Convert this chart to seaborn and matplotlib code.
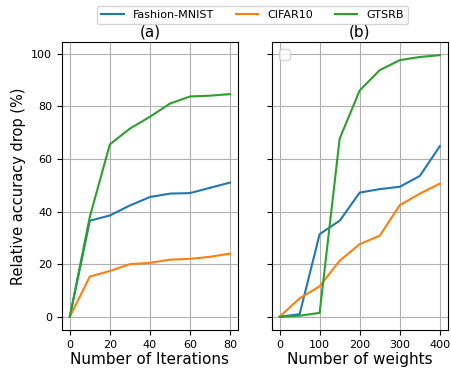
import pandas as pd
import matplotlib.pyplot as plt
import seaborn as sns

# Données
iterations = [0, 10, 20, 30, 40, 50, 60, 70, 80]
fmnist_iter = [0, 36.5, 38.5, 42.3, 45.5, 46.8, 47.0, 49.0, 51.0]
cifar_iter = [0, 15.3, 17.4, 20.0, 20.5, 21.7, 22.0, 22.8, 24.0]
gtsrb_iter = [0, 38.0, 65.5, 71.5, 76.0, 81.0, 83.7, 84.0, 84.6]

weights = [0, 50, 100, 150, 200, 250, 300, 350, 400]
fmnist_w = [0, 1.0, 31.4, 36.5, 47.2, 48.5, 49.4, 53.5, 64.8]
cifar_w = [0, 7.0, 11.6, 21.3, 27.6, 30.8, 42.4, 46.8, 50.6]
gtsrb_w = [0, 0.4, 1.5, 67.7, 86.0, 93.7, 97.5, 98.7, 99.4]

names = ["Fashion-MNIST", "CIFAR10", "GTSRB"]

df_a = pd.DataFrame({"x": iterations * 3,
                     "y": fmnist_iter + cifar_iter + gtsrb_iter,
                     "dataset": [n for n in names for _ in iterations]})
df_b = pd.DataFrame({"x": weights * 3,
                     "y": fmnist_w + cifar_w + gtsrb_w,
                     "dataset": [n for n in names for _ in weights]})

fig, axes = plt.subplots(1, 2, figsize=(4.51, 3.69), dpi=100, sharey=True)

sns.lineplot(data=df_a, x="x", y="y", hue="dataset", ax=axes[0])
sns.lineplot(data=df_b, x="x", y="y", hue="dataset", ax=axes[1], legend=False)

handles, labels = axes[0].get_legend_handles_labels()
axes[0].get_legend().remove()

axes[0].set_title("(a)", fontsize=11, pad=4)
axes[1].set_title("(b)", fontsize=11, pad=4)
axes[0].set_xlabel("Number of Iterations", fontsize=11, labelpad=2)
axes[1].set_xlabel("Number of weights", fontsize=11, labelpad=2)
axes[0].set_ylabel("Relative accuracy drop (%)", fontsize=10.5)
axes[1].set_ylabel("")
axes[0].set_xticks([0, 20, 40, 60, 80])
axes[1].set_xticks([0, 100, 200, 300, 400])
for ax in axes:
    ax.grid(True)
    ax.tick_params(labelsize=8)

# petite légende vide dans (b)
axes[1].legend(handles=[], loc="upper left")

fig.legend(handles, labels, loc="upper center", ncol=3, fontsize=8,
           bbox_to_anchor=(0.56, 1.0))
plt.subplots_adjust(left=0.137, right=0.993, top=0.886, bottom=0.106, wspace=0.19)
plt.savefig("out.png")
